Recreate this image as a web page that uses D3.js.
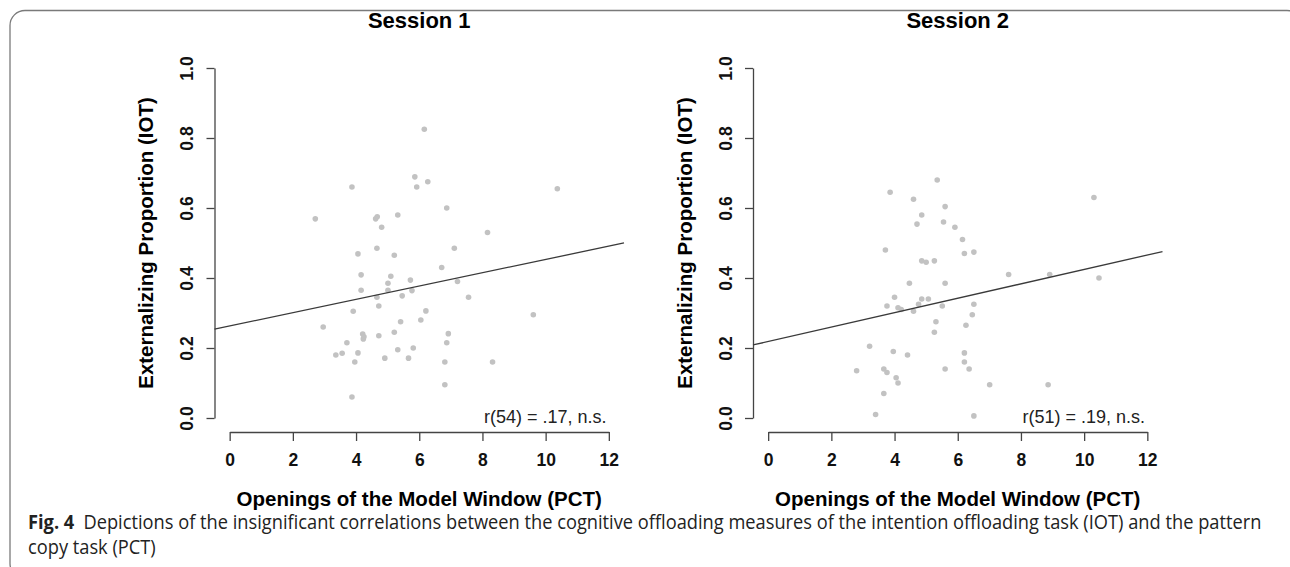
<!DOCTYPE html>
<html>
<head>
<meta charset="utf-8">
<script src="https://cdn.jsdelivr.net/npm/d3@7"></script>
<style>
  body { margin: 0; background: #fff; }
  svg { display: block; font-family: "Liberation Sans", Arial, sans-serif; }
</style>
</head>
<body>
<div id="chart-area"></div>
<script>
/* Data */
var panelTitles = ["Session 1", "Session 2"];
var statLabels = ["r(54) = .17, n.s.", "r(51) = .19, n.s."];
var xTicks = [0, 2, 4, 6, 8, 10, 12];
var yTicks = [0, 0.2, 0.4, 0.6, 0.8, 1.0];

// Session 1: openings (PCT) vs externalizing proportion (IOT)
var s1X = [5.86, 5.92, 3.87, 2.71, 4.62, 4.67, 5.32, 4.81, 4.06, 4.66, 5.21, 4.16, 5.10, 5.01,
  5.72, 4.16, 5.01, 5.77, 4.66, 5.46, 4.72, 3.91, 2.96, 5.41, 6.05, 4.21, 4.23, 4.25, 4.72, 5.21,
  3.71, 3.36, 3.56, 4.06, 3.96, 5.32, 5.81, 4.91, 5.66, 3.87, 6.16, 6.27, 6.87, 10.37, 8.16,
  7.11, 6.71, 7.21, 7.56, 6.21, 9.61, 6.92, 6.87, 6.81, 8.32, 6.81];
var s1Y = [0.689, 0.66, 0.66, 0.569, 0.569, 0.575, 0.58, 0.545, 0.469, 0.485, 0.465, 0.409, 0.405, 0.385,
  0.394, 0.365, 0.365, 0.364, 0.345, 0.349, 0.32, 0.305, 0.26, 0.275, 0.28, 0.24, 0.226, 0.232, 0.235, 0.245,
  0.215, 0.18, 0.185, 0.186, 0.16, 0.195, 0.2, 0.171, 0.171, 0.06, 0.825, 0.675, 0.6, 0.655, 0.53,
  0.485, 0.43, 0.39, 0.345, 0.306, 0.295, 0.241, 0.215, 0.16, 0.16, 0.095];

// Session 2
var s2X = [5.35, 3.86, 4.60, 4.86, 4.71, 3.71, 4.86, 5.00, 5.26, 4.47, 4.00, 4.86, 5.07, 3.76,
  4.11, 4.21, 4.76, 4.60, 5.31, 5.26, 3.21, 3.96, 4.41, 2.80, 3.66, 3.76, 4.05, 4.11, 3.66, 3.40,
  10.31, 5.60, 5.55, 5.91, 6.15, 6.21, 6.51, 7.61, 8.91, 10.47, 5.60, 5.51, 6.51, 6.46, 6.26,
  6.21, 6.21, 5.60, 6.36, 7.01, 8.86, 6.51];
var s2Y = [0.68, 0.645, 0.625, 0.58, 0.554, 0.48, 0.449, 0.445, 0.449, 0.385, 0.345, 0.34, 0.34, 0.32,
  0.315, 0.31, 0.325, 0.305, 0.275, 0.245, 0.205, 0.19, 0.18, 0.135, 0.14, 0.13, 0.115, 0.10, 0.07, 0.01,
  0.63, 0.604, 0.56, 0.545, 0.51, 0.47, 0.474, 0.41, 0.41, 0.40, 0.385, 0.32, 0.325, 0.295, 0.265,
  0.186, 0.16, 0.14, 0.14, 0.095, 0.095, 0.006];

// fitted regression lines (intercept, slope)
var fitIntercepts = [0.263, 0.2185];
var fitSlopes = [0.019, 0.0206];

var panelsX = [s1X, s2X];
var panelsY = [s1Y, s2Y];

/* Layout */
var W = 1290, H = 567;
var panelLeft = [214.5, 753];
var plotW = 409.5;
var plotTop = 54, plotBottom = 432;

var svg = d3.select("#chart-area").append("svg")
  .attr("width", W)
  .attr("height", H);

svg.append("rect").attr("width", W).attr("height", H).attr("fill", "#fff");

/* Frame with rounded corners */
svg.append("rect")
  .attr("x", 10).attr("y", 10.5)
  .attr("width", 1292).attr("height", 568)
  .attr("rx", 15).attr("ry", 15)
  .attr("fill", "none")
  .attr("stroke", "#7a7a7a")
  .attr("stroke-width", 1.3);

panelTitles.forEach(function(title, i) {
  var g = svg.append("g");

  var x = d3.scaleLinear().domain([-0.48, 12.48]).range([panelLeft[i], panelLeft[i] + plotW]);
  var y = d3.scaleLinear().domain([-0.04, 1.04]).range([plotBottom, plotTop]);

  // axis scales only span the tick range, like R's axis()
  var xAxisScale = x.copy().domain([0, 12]).range([x(0), x(12)]);
  var yAxisScale = y.copy().domain([0, 1]).range([y(0), y(1)]);

  var xAxis = g.append("g")
    .attr("transform", "translate(0," + plotBottom + ")")
    .call(d3.axisBottom(xAxisScale).tickValues(xTicks).tickSize(9).tickSizeOuter(0)
      .tickFormat(d3.format("d")));
  xAxis.selectAll("text")
    .attr("y", 33.5).attr("dy", 0)
    .attr("font-size", "17.5px").attr("font-weight", "bold")
    .attr("font-family", "Liberation Sans, Arial, sans-serif")
    .attr("fill", "#111");

  var yAxis = g.append("g")
    .attr("transform", "translate(" + panelLeft[i] + ",0)")
    .call(d3.axisLeft(yAxisScale).tickValues(yTicks).tickSize(8).tickSizeOuter(0)
      .tickFormat(d3.format(".1f")));
  yAxis.selectAll("text")
    .attr("transform", "rotate(-90)")
    .attr("x", 0).attr("y", -21.5).attr("dy", 0)
    .attr("text-anchor", "middle")
    .attr("font-size", "17.5px").attr("font-weight", "bold")
    .attr("font-family", "Liberation Sans, Arial, sans-serif")
    .attr("fill", "#111");

  g.selectAll(".domain, .tick line")
    .attr("stroke", "#444")
    .attr("stroke-width", 1.3);

  // points
  g.selectAll("circle")
    .data(panelsX[i].map(function(d, k) { return [d, panelsY[i][k]]; }))
    .enter()
    .append("circle")
      .attr("cx", function(d) { return x(d[0]); })
      .attr("cy", function(d) { return y(d[1]); })
      .attr("r", 2.8)
      .attr("fill", "#c2c2c2");

  // regression line across the plot region
  var xd = x.domain();
  g.append("line")
    .attr("x1", x(xd[0])).attr("y1", y(fitIntercepts[i] + fitSlopes[i] * xd[0]))
    .attr("x2", x(xd[1])).attr("y2", y(fitIntercepts[i] + fitSlopes[i] * xd[1]))
    .attr("stroke", "#3a3a3a")
    .attr("stroke-width", 1.3);

  // labels
  var cx = panelLeft[i] + plotW / 2;
  g.append("text")
    .attr("x", cx).attr("y", 28)
    .attr("text-anchor", "middle")
    .attr("font-size", "22px").attr("font-weight", "bold")
    .text(title);

  g.append("text")
    .attr("x", cx).attr("y", 506)
    .attr("text-anchor", "middle")
    .attr("font-size", "20.5px").attr("font-weight", "bold")
    .text("Openings of the Model Window (PCT)");

  g.append("text")
    .attr("transform", "translate(" + (panelLeft[i] - 61.5) + "," + ((plotTop + plotBottom) / 2) + ") rotate(-90)")
    .attr("text-anchor", "middle")
    .attr("font-size", "20.5px").attr("font-weight", "bold")
    .text("Externalizing Proportion (IOT)");

  g.append("text")
    .attr("x", panelLeft[i] + plotW - 17.5).attr("y", 423)
    .attr("text-anchor", "end")
    .attr("font-size", "18px")
    .attr("fill", "#222")
    .text(statLabels[i]);
});

/* Caption */
var cap = svg.append("g").attr("font-family", "Open Sans, Noto Sans, sans-serif").attr("fill", "#222");
var line1 = cap.append("text").attr("x", 0).attr("y", 529).attr("font-size", "20px");
line1.append("tspan").attr("font-weight", "bold").text("Fig. 4");
line1.append("tspan").text("\u2002Depictions of the insignificant correlations between the cognitive offloading measures of the intention offloading task (IOT) and the pattern");
cap.append("text").attr("x", 0).attr("y", 554).attr("font-size", "20px")
  .text("copy task (PCT)");

var natural = line1.node().getComputedTextLength();
var k = 1234 / natural;
cap.attr("transform", "translate(28,0) scale(" + k + ",1)");
</script>
</body>
</html>
